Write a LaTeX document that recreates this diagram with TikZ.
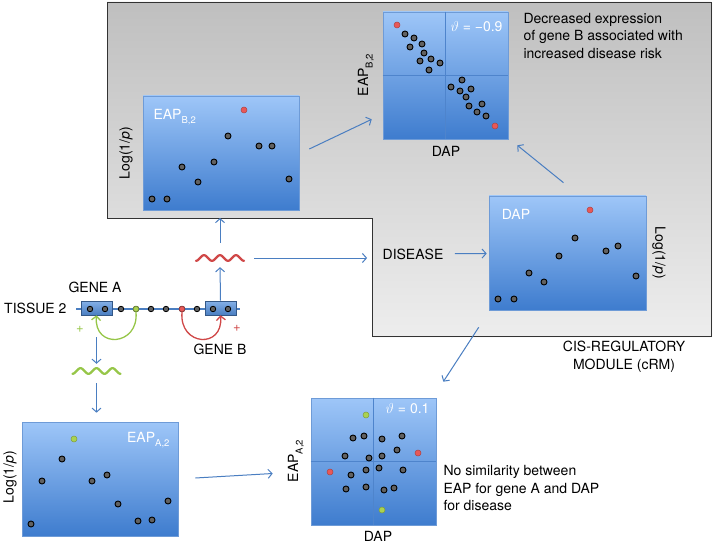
\documentclass[tikz,border=0pt]{standalone}
\usepackage{fontspec}
\setmainfont{TeX Gyre Heros}
\usetikzlibrary{arrows.meta,shadows}
\definecolor{arrblue}{RGB}{74,126,193}
\definecolor{paneltop}{RGB}{158,198,248}
\definecolor{panelbot}{RGB}{62,124,206}
\definecolor{panelline}{RGB}{110,155,215}
\definecolor{divline}{RGB}{78,132,204}
\definecolor{dotred}{RGB}{232,88,88}
\definecolor{dotgreen}{RGB}{170,210,80}
\definecolor{wavered}{RGB}{208,72,72}
\definecolor{wavegreen}{RGB}{150,198,72}
\newcommand{\lowsub}[1]{\raisebox{-0.6ex}{\fontsize{9.5}{9.5}\selectfont #1}}
\begin{document}
\begin{tikzpicture}[x=1pt, y=-1pt, font=\fontsize{14}{17.5}\selectfont,
  panel/.style={draw=panelline, line width=0.6pt, top color=paneltop,
    bottom color=panelbot, inner sep=0pt,
    drop shadow={shadow xshift=1pt, shadow yshift=-1pt, opacity=0.3}},
  dot/.style={draw=black, fill=black!62, line width=0.9pt},
  reddot/.style={draw=dotred!75!black, fill=dotred, line width=0.5pt},
  greendot/.style={draw=dotgreen!75!black, fill=dotgreen, line width=0.5pt},
  site/.style={circle, draw=black, fill=black!62, line width=0.8pt,
    minimum size=5.5pt, inner sep=0pt},
  genebox/.style={draw=arrblue!70!black, line width=0.6pt, top color=paneltop!70!arrblue,
    bottom color=arrblue, minimum width=31pt, minimum height=14pt, inner sep=0pt},
  wavebox/.style={minimum width=48pt, minimum height=14pt, inner sep=0pt},
  arrow line/.style={draw=arrblue, line width=1pt, -{Straight Barb[length=4pt,width=9pt]}},
  arc line/.style={line width=1.3pt, -{Straight Barb[length=4pt,width=9pt]}},
  wave line/.style={line width=2.3pt, line cap=round},
  divider/.style={draw=divline, line width=1.6pt}]
\useasboundingbox (0,0) rectangle (714,545);
\draw[draw=black!80, line width=0.8pt, top color=black!25, bottom color=black!7,
  drop shadow={shadow xshift=1pt, shadow yshift=-1pt, opacity=0.3}]
  (107,2) coordinate (crmNW) -- (711,2) -- (711,336) -- (372,336)
  -- (372,218) -- (107,218) coordinate (crmSW) -- cycle;
\node[panel, minimum width=156pt, minimum height=114pt] (eapB) at (221,153) {};
\node[panel, minimum width=157pt, minimum height=114pt] (dap) at (567.5,253) {};
\node[panel, minimum width=156pt, minimum height=114pt] (eapA) at (100,479) {};
\node[panel, minimum width=125pt, minimum height=127pt] (corrB) at (445.5,75.5) {};
\node[panel, minimum width=125pt, minimum height=127pt] (corrA) at (373.5,461.5) {};
\draw[divider] (corrB.north) -- (corrB.south) (corrB.west) -- (corrB.east);
\draw[divider] (corrA.north) -- (corrA.south) (corrA.west) -- (corrA.east);
\foreach \x/\y in {228/136, 259/146, 272/146, 214/162, 182/167, 198/182, 289/179,
    152/199, 167/199, 575/238, 606/251, 618/246, 559/256, 529/273, 544/282, 636/276,
    498/299, 514/299, 62/459, 42/481, 92/481, 107/475, 118/504, 168/501, 138/521,
    152/520, 31/524, 405/34, 414/38, 410/47, 422/44, 424/53, 431/59, 420/61, 440/63,
    429/70, 462/80, 451/87, 460/91, 471/89, 466/97, 482/104, 469/106, 477/112,
    486/116, 353/438, 364/436, 382/439, 402/436, 345/456, 369/458, 382/456, 397/450,
    351/475, 366/470, 379/468, 403/470, 346/489, 366/487, 384/490, 394/488}
  \draw[dot] (\x,\y) circle (3pt);
\foreach \x/\y in {244/110, 590/210, 397/25, 495/126, 418/453, 330/472}
  \draw[reddot] (\x,\y) circle (3pt);
\foreach \x/\y in {74/439, 366/415, 382/510}
  \draw[greendot] (\x,\y) circle (3pt);
\node[white, anchor=west] (tagB) at (150,117) {EAP\lowsub{B,2}};
\node[white, anchor=east] (tagA) at (173,440) {EAP\lowsub{A,2}};
\node[white] (tagD) at (516,214) {DAP};
\node[white, anchor=east] (rhoB) at (506,27) {$\vartheta$ = −0.9};
\node[white, anchor=east] (rhoA) at (433,409) {$\vartheta$ = 0.1};
\node[rotate=90] (yB) at (366,75) {EAP\lowsub{B,2}};
\node (xB) at (446,151) {DAP};
\node[rotate=90] (yA) at (296,461) {EAP\lowsub{A,2}};
\node (xA) at (378,536) {DAP};
\node[rotate=90] (logB) at (126,153) {Log(1/\textit{p})};
\node[rotate=90] (logA) at (10,477) {Log(1/\textit{p})};
\node[rotate=-90] (logD) at (659,253) {Log(1/\textit{p})};
\node[anchor=west, align=left] (noteB) at (520,36)
  {Decreased expression\\of gene B associated with\\increased disease risk};
\node[anchor=west, align=left] (noteA) at (440,488)
  {No similarity between\\EAP for gene A and DAP\\for disease};
\node[align=center] (crmtext) at (624,357) {CIS-REGULATORY\\MODULE (cRM)};
\node (disease) at (413,254) {DISEASE};
\draw[draw=arrblue, line width=2pt] (76,309) coordinate (chrL) -- (240,309) coordinate (chrR);
\node[genebox] (geneA) at (96.5,308) {};
\node[genebox] (geneB) at (220.5,308) {};
\foreach \x [count=\i] in {90,105,121,136,151,166,182,197,213,228}
  \node[site] (s\i) at (\x,309) {};
\node[site, fill=dotgreen, draw=dotgreen!70!black] (s4g) at (s4) {};
\node[site, fill=dotred, draw=dotred!70!black] (s7r) at (s7) {};
\node[anchor=east] (tissue) at (70,308) {TISSUE 2};
\node (labelA) at (95,287) {GENE A};
\node (labelB) at (220,349) {GENE B};
\node[text=wavegreen, font=\fontsize{13}{13}\selectfont] (plusA) at (80,329) {+};
\node[text=wavered, font=\fontsize{13}{13}\selectfont] (plusB) at (237,328) {+};
\draw[arc line, wavegreen] (s4g.south) .. controls +(3,34) and +(-3,34) .. (geneA.south);
\draw[arc line, wavered] (s7r.south) .. controls +(-3,34) and +(3,34) .. (geneB.south);
\node[wavebox] (waveB) at (220,258) {};
\node[wavebox] (waveA) at (96.5,371) {};
\draw[wave line, wavered, shift={(waveB)}]
  plot[domain=-24:24, samples=61, smooth] (\x, {2.8*cos(22.5*(\x+24))});
\draw[wave line, wavegreen, shift={(waveA)}]
  plot[domain=-24:24, samples=61, smooth] (\x, {2.8*cos(22.5*(\x+24))});
\draw[arrow line, shorten >=2pt] (geneB.north) -- (waveB.south);
\draw[arrow line, shorten <=8pt] (waveB.north) -- (waveB.north |- crmSW);
\draw[arrow line, shorten <=10pt, shorten >=12pt] (waveB.east) -- (waveB.east -| disease.west);
\draw[arrow line, shorten <=8pt, shorten >=2pt] (disease) -- (dap);
\draw[arrow line] ([shift={(10,-4)}]eapB.east) -- ([shift={(-11,-20)}]corrB.south west);
\draw[arrow line] ([shift={(-4,-13)}]dap.north) -- ([shift={(9,6)}]corrB.south east);
\draw[arrow line] ([shift={(-10,17)}]dap.south west) -- ([shift={(7,-16)}]corrA.north east);
\draw[arrow line] ([shift={(17,-1)}]eapA.east) -- ([shift={(-38,12)}]corrA.west);
\draw[arrow line, shorten <=22pt] (geneA.south) -- (waveA.north);
\draw[arrow line, shorten <=5pt, shorten >=9pt] (waveA.south) -- (waveA.south |- eapA.north);
\end{tikzpicture}
\end{document}
